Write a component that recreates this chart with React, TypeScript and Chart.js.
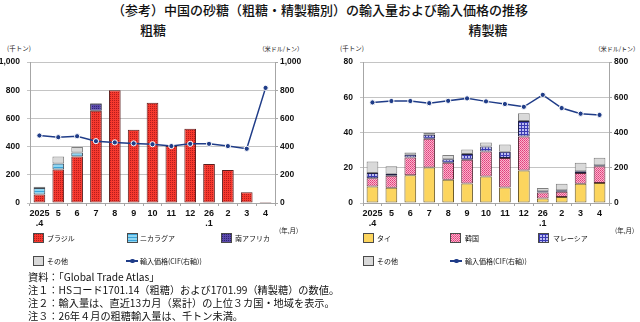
import React, { useEffect, useRef } from 'react';
import { Chart, registerables } from 'chart.js';
Chart.register(...registerables);

// ---------- data ----------
const categories: (string | string[])[] = [['2025', '.4'], '5', '6', '7', '8', '9', '10', '11', '12', ['26', '.1'], '2', '3', '4'];

// 粗糖 (千トン)
const rawBrazil = [60, 238, 330, 655, 800, 519, 712, 405, 527, 276, 235, 77, 0.5];
const rawNicaragua = [47, 42, 28, null, null, null, null, null, null, null, null, null, null];
const rawSouthAfrica = [null, null, null, 50, null, null, null, null, null, null, null, null, null];
const rawOther = [8, 50, 40, 5, null, null, null, null, null, null, null, null, null];
const rawPrice = [479, 467, 474, 439, 430, 423, 417, 404, 420, 420, 404, 385, 817];

// 精製糖 (千トン)
const refThai = [9.4, 8.7, 15.8, 20.1, 13.2, 11.1, 15.0, 8.8, 18.4, 2.6, 3.4, 10.9, 11.3];
const refKorea = [4.7, 6.8, 10.1, 16.4, 9.6, 13.5, 14.3, 16.8, 19.3, 3.4, 3.0, 6.2, 9.5];
const refMalaysia = [3.0, 1.1, 1.5, 2.2, 2.0, 3.2, 2.8, 3.5, 8.9, 0.7, 0.9, 0.9, 0.6];
const refOther = [6.4, 4.2, 1.3, 1.0, 2.5, 2.6, 2.3, 4.1, 4.3, 1.8, 3.6, 4.9, 4.3];
const refPrice = [571, 579, 579, 567, 580, 594, 577, 562, 546, 614, 539, 507, 500];

const rawAxis = { max: 1000, step: 200 };
const rawAxisRight = { max: 1000, step: 200 };
const refAxis = { max: 80, step: 20 };
const refAxisRight = { max: 800, step: 200 };

// ---------- styles ----------
const JP = '"Noto Sans CJK JP", "Noto Sans", sans-serif';
const LAT = '"Liberation Sans", Arial, sans-serif';
const NAVY = '#1F3C88';

type PatSpec = { size: number; draw: (c: CanvasRenderingContext2D) => void };
const pat = (size: number, base: string, dots: [number, number, number, number, string][]): PatSpec => ({
  size,
  draw: (c) => {
    c.fillStyle = base;
    c.fillRect(0, 0, size, size);
    dots.forEach(([x, y, w, h, col]) => {
      c.fillStyle = col;
      c.fillRect(x, y, w, h);
    });
  },
});

const SPEC = {
  brazil: pat(2, '#F6392E', [[0, 0, 1, 1, '#B51C1C']]),
  nicaragua: pat(3, '#8FD6F2', [[0, 0, 3, 1, '#3AA4DA']]),
  southAfrica: pat(2, '#5B4AAA', [[0, 0, 1, 1, '#2E2274']]),
  other: pat(2, '#D9D9D9', []),
  thai: pat(2, '#FCD55E', []),
  korea: pat(2, '#FAB3CC', [[0, 0, 1, 1, '#E03E7C'], [1, 1, 1, 1, '#E85A8E']]),
  malaysia: pat(3, '#3A3AB2', [[1, 1, 2, 2, '#BDBDF2']]),
};

function specCanvas(s: PatSpec) {
  const c = document.createElement('canvas');
  c.width = s.size;
  c.height = s.size;
  const ctx = c.getContext('2d')!;
  s.draw(ctx);
  return c;
}
function makePattern(s: PatSpec) {
  const c = specCanvas(s);
  const ctx = document.createElement('canvas').getContext('2d')!;
  return ctx.createPattern(c, 'repeat')!;
}

const fmt = (v: number | string) => Number(v).toLocaleString('en-US');

function buildOptions(opt: {
  padTop: number; xh: number; lw: number; rw: number;
  left: { max: number; step: number }; right: { max: number; step: number };
}) {
  const tickFont = { family: LAT, size: 8.5, weight: 'bold' as const };
  const axisCol = '#A6A6A6';
  return {
    responsive: false,
    maintainAspectRatio: false,
    animation: false as const,
    layout: { padding: { top: opt.padTop, left: 0, right: 0, bottom: 0 } },
    plugins: { legend: { display: false }, tooltip: { enabled: false } },
    scales: {
      x: {
        stacked: true,
        grid: { display: true, drawOnChartArea: false, offset: true, tickLength: 3, color: axisCol },
        border: { color: axisCol },
        ticks: { font: { ...tickFont, size: 9, lineHeight: 1.15 }, color: '#111', padding: 2, maxRotation: 0, autoSkip: false },
        afterFit: (s: any) => { s.height = opt.xh; },
      },
      y: {
        stacked: true,
        min: 0,
        max: opt.left.max,
        ticks: { stepSize: opt.left.step, padding: 7, font: tickFont, color: '#111', callback: fmt },
        grid: { color: '#C4C4C4', tickLength: 3 },
        border: { color: axisCol },
        afterFit: (s: any) => { s.width = opt.lw; },
      },
      y1: {
        position: 'right' as const,
        min: 0,
        max: opt.right.max,
        ticks: { stepSize: opt.right.step, padding: 2, font: tickFont, color: '#111', callback: fmt },
        grid: { drawOnChartArea: false, tickLength: 3, color: axisCol },
        border: { color: axisCol },
        afterFit: (s: any) => { s.width = opt.rw; },
      },
    },
  };
}

const barCommon = {
  type: 'bar' as const,
  stack: 's',
  yAxisID: 'y',
  order: 1,
  borderWidth: 1,
  borderSkipped: false,
  barPercentage: 0.62,
  categoryPercentage: 1,
};

const lineDs = (data: number[]) => ({
  type: 'line' as const,
  label: '輸入価格(CIF(右軸))',
  data,
  yAxisID: 'y1',
  order: 0,
  borderColor: NAVY,
  borderWidth: 1.5,
  pointRadius: 2.6,
  pointBackgroundColor: NAVY,
  pointBorderColor: '#FFFFFF',
  pointBorderWidth: 1,
  tension: 0,
});

function RawChart() {
  const ref = useRef<HTMLCanvasElement>(null);
  useEffect(() => {
    const ch = new Chart(ref.current!, {
      type: 'bar',
      data: {
        labels: categories as any,
        datasets: [
          { ...barCommon, label: 'ブラジル', data: rawBrazil, backgroundColor: makePattern(SPEC.brazil), borderColor: '#5A1E1E' },
          { ...barCommon, label: 'ニカラグア', data: rawNicaragua as any, backgroundColor: makePattern(SPEC.nicaragua), borderColor: '#404A55' },
          { ...barCommon, label: '南アフリカ', data: rawSouthAfrica as any, backgroundColor: makePattern(SPEC.southAfrica), borderColor: '#2A2A40' },
          { ...barCommon, label: 'その他', data: rawOther as any, backgroundColor: '#D9D9D9', borderColor: '#7F7F7F' },
          lineDs(rawPrice) as any,
        ],
      },
      options: buildOptions({ padTop: 11, xh: 37, lw: 30, rw: 45, left: rawAxis, right: rawAxisRight }) as any,
    });
    return () => ch.destroy();
  }, []);
  return <canvas ref={ref} width={320} height={190} style={{ position: 'absolute', left: 0, top: 50, width: 320, height: 190 }} />;
}

function RefChart() {
  const ref = useRef<HTMLCanvasElement>(null);
  useEffect(() => {
    const ch = new Chart(ref.current!, {
      type: 'bar',
      data: {
        labels: categories as any,
        datasets: [
          { ...barCommon, label: 'タイ', data: refThai, backgroundColor: '#FCD55E', borderColor: '#6B5A2A' },
          { ...barCommon, label: '韓国', data: refKorea, backgroundColor: makePattern(SPEC.korea), borderColor: '#5A2A3A' },
          { ...barCommon, label: 'マレーシア', data: refMalaysia, backgroundColor: makePattern(SPEC.malaysia), borderColor: '#202040' },
          { ...barCommon, label: 'その他', data: refOther, backgroundColor: '#D9D9D9', borderColor: '#7F7F7F' },
          lineDs(refPrice) as any,
        ],
      },
      options: buildOptions({ padTop: 11, xh: 37, lw: 43, rw: 31, left: refAxis, right: refAxisRight }) as any,
    });
    return () => ch.destroy();
  }, []);
  return <canvas ref={ref} width={320} height={190} style={{ position: 'absolute', left: 320, top: 50, width: 320, height: 190 }} />;
}

function Txt(p: { x: number; y: number; size: number; children: any; align?: 'left' | 'center' | 'right'; weight?: number | string; family?: string }) {
  const { x, y, size, align = 'left', weight = 400, family = JP } = p;
  return (
    <div
      style={{
        position: 'absolute',
        left: x,
        top: y - size * 0.6,
        fontSize: size,
        lineHeight: `${size * 1.2}px`,
        fontWeight: weight as any,
        fontFamily: family,
        whiteSpace: 'nowrap',
        color: '#111',
        transform: align === 'center' ? 'translateX(-50%)' : align === 'right' ? 'translateX(-100%)' : undefined,
      }}
    >
      {p.children}
    </div>
  );
}

function Swatch({ x, y, spec }: { x: number; y: number; spec: PatSpec }) {
  const url = specCanvas(spec).toDataURL();
  return (
    <div
      style={{
        position: 'absolute',
        left: x,
        top: y - 5,
        width: 11,
        height: 10,
        boxSizing: 'border-box',
        border: '1px solid #4A4A4A',
        backgroundImage: `url(${url})`,
        backgroundRepeat: 'repeat',
      }}
    />
  );
}

function LineKey({ x, y }: { x: number; y: number }) {
  return (
    <div style={{ position: 'absolute', left: x, top: y - 3, width: 12, height: 6 }}>
      <div style={{ position: 'absolute', left: 0, top: 2, width: 12, height: 1.5, background: NAVY }} />
      <div style={{ position: 'absolute', left: 4, top: 0.5, width: 4.5, height: 4.5, borderRadius: '50%', background: NAVY }} />
    </div>
  );
}

export default function App() {
  const LS = 7; // legend font size
  return (
    <div style={{ position: 'absolute', left: 0, top: 0, width: 640, height: 322, background: '#fff', overflow: 'hidden' }}>
      <Txt x={320} y={10} size={13} align="center" weight={500}>（参考）中国の砂糖（粗糖・精製糖別）の輸入量および輸入価格の推移</Txt>
      <Txt x={153} y={30} size={13} align="center" weight={500}>粗糖</Txt>
      <Txt x={488} y={30} size={13} align="center" weight={500}>精製糖</Txt>

      <Txt x={7} y={49} size={6.5}>(千トン)</Txt>
      <Txt x={303} y={49} size={6}>{''}</Txt>
      <Txt x={303} y={49} size={6} align="right">（米ドル/トン）</Txt>
      <Txt x={340} y={49} size={6.5}>(千トン)</Txt>
      <Txt x={639} y={49} size={6} align="right">（米ドル/トン）</Txt>

      <RawChart />
      <RefChart />

      <Txt x={279} y={231} size={6.5}>(年,月)</Txt>
      <Txt x={615} y={231} size={6.5}>(年,月)</Txt>

      {/* left legend */}
      <Swatch x={33} y={238} spec={SPEC.brazil} />
      <Txt x={47} y={238} size={LS}>ブラジル</Txt>
      <Swatch x={127} y={238} spec={SPEC.nicaragua} />
      <Txt x={140} y={238} size={LS}>ニカラグア</Txt>
      <Swatch x={221} y={238} spec={SPEC.southAfrica} />
      <Txt x={235} y={238} size={LS}>南アフリカ</Txt>
      <Swatch x={33} y={261} spec={SPEC.other} />
      <Txt x={47} y={261} size={LS}>その他</Txt>
      <LineKey x={126} y={261} />
      <Txt x={140} y={261} size={LS}>輸入価格(CIF(右軸))</Txt>

      {/* right legend */}
      <Swatch x={363} y={238} spec={SPEC.thai} />
      <Txt x={377} y={238} size={LS}>タイ</Txt>
      <Swatch x={450} y={238} spec={SPEC.korea} />
      <Txt x={465} y={238} size={LS}>韓国</Txt>
      <Swatch x={538} y={238} spec={SPEC.malaysia} />
      <Txt x={553} y={238} size={LS}>マレーシア</Txt>
      <Swatch x={363} y={261} spec={SPEC.other} />
      <Txt x={377} y={261} size={LS}>その他</Txt>
      <LineKey x={450} y={261} />
      <Txt x={465} y={261} size={LS}>輸入価格(CIF(右軸))</Txt>

      {/* notes */}
      <Txt x={28} y={277} size={10.2}>資料：「Global Trade Atlas」</Txt>
      <Txt x={28} y={290} size={10.2}>注１：HSコード1701.14（粗糖）および1701.99（精製糖）の数値。</Txt>
      <Txt x={28} y={303} size={10.2}>注２：輸入量は、直近13カ月（累計）の上位３カ国・地域を表示。</Txt>
      <Txt x={28} y={316} size={10.2}>注３：26年４月の粗糖輸入量は、千トン未満。</Txt>
    </div>
  );
}
